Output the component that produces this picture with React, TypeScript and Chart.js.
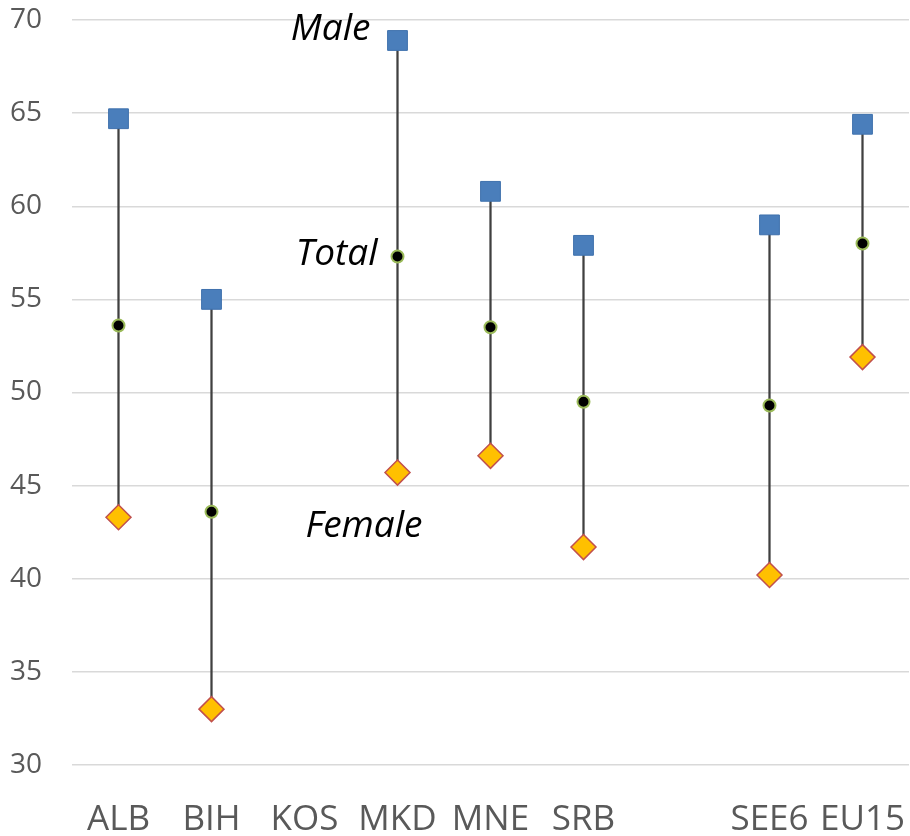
import React, { useEffect, useRef } from "react";
import { Chart, registerables } from "chart.js";

Chart.register(...registerables);

const categories = ["ALB", "BIH", "KOS", "MKD", "MNE", "SRB", "", "SEE6", "EU15"];
const maleValues = [64.7, 55.0, null, 68.9, 60.8, 57.9, null, 59.0, 64.4];
const totalValues = [53.6, 43.6, null, 57.3, 53.5, 49.5, null, 49.3, 58.0];
const femaleValues = [43.3, 33.0, null, 45.7, 46.6, 41.7, null, 40.2, 51.9];
const yTicks = [30, 35, 40, 45, 50, 55, 60, 65, 70];
const annotationTexts = ["Male", "Total", "Female"];
const annotationValues = [68.9, 56.85, 42.25];
const annotationCategory = "MKD";

const rangeValues = categories.map((_, i) =>
  maleValues[i] == null || femaleValues[i] == null ? null : [femaleValues[i], maleValues[i]]
);

const annotationPlugin = {
  id: "seriesLabels",
  afterDatasetsDraw(chart: any) {
    const ctx = chart.ctx;
    const x = chart.scales.x;
    const y = chart.scales.y;
    const idx = categories.indexOf(annotationCategory);
    const cx = x.getPixelForValue(idx);
    ctx.save();
    ctx.fillStyle = "#000000";
    ctx.font = "italic 37px 'Open Sans'";
    ctx.textBaseline = "alphabetic";
    ctx.textAlign = "right";
    ctx.fillText(annotationTexts[0], cx - 27, y.getPixelForValue(annotationValues[0]));
    ctx.fillText(annotationTexts[1], cx - 20, y.getPixelForValue(annotationValues[1]));
    ctx.textAlign = "left";
    ctx.fillText(annotationTexts[2], cx - 92, y.getPixelForValue(annotationValues[2]));
    ctx.restore();
  },
};

export default function App() {
  const ref = useRef<HTMLCanvasElement | null>(null);
  useEffect(() => {
    if (!ref.current) return;
    const chart = new Chart(ref.current, {
      type: "bar",
      data: {
        labels: categories,
        datasets: [
          {
            type: "line",
            label: "Male",
            data: maleValues as any,
            showLine: false,
            pointStyle: "rect",
            pointRadius: 14,
            backgroundColor: "#4a7ebb",
            borderColor: "#3f71ad",
            borderWidth: 1,
            order: 1,
          },
          {
            type: "line",
            label: "Total",
            data: totalValues as any,
            showLine: false,
            pointStyle: "circle",
            pointRadius: 6,
            backgroundColor: "#000000",
            borderColor: "#9bbb59",
            borderWidth: 2,
            order: 0,
          },
          {
            type: "line",
            label: "Female",
            data: femaleValues as any,
            showLine: false,
            pointStyle: "rectRot",
            pointRadius: 12.5,
            backgroundColor: "#ffc000",
            borderColor: "#c0504d",
            borderWidth: 1.5,
            order: 2,
          },
          {
            type: "bar",
            label: "Range",
            data: rangeValues as any,
            backgroundColor: "#404040",
            barThickness: 1.6,
            borderWidth: 0,
            order: 10,
          },
        ],
      },
      options: {
        animation: false,
        responsive: false,
        maintainAspectRatio: false,
        layout: { padding: { left: 0, right: 2, top: 20, bottom: 0 } },
        plugins: { legend: { display: false }, tooltip: { enabled: false } },
        scales: {
          x: {
            offset: true,
            grid: {
              display: true,
              drawOnChartArea: false,
              drawTicks: true,
              tickLength: 34,
              tickColor: "rgba(0,0,0,0)",
              color: "rgba(0,0,0,0)",
            },
            border: { display: false },
            ticks: {
              autoSkip: false,
              maxRotation: 0,
              padding: 0,
              color: "#595959",
              font: { family: "'Open Sans'", size: 35 },
            },
            afterFit: (s: any) => {
              s.height = 71;
              s.paddingLeft = 0;
              s.paddingRight = 0;
            },
          },
          y: {
            min: 30,
            max: 70,
            afterBuildTicks: (s: any) => {
              s.ticks = yTicks.map((v) => ({ value: v }));
            },
            grid: { color: "#d9d9d9", lineWidth: 1.5, drawTicks: false },
            border: { display: false },
            ticks: {
              padding: 30,
              color: "#595959",
              font: { family: "'Open Sans'", size: 28 },
            },
            afterFit: (s: any) => {
              s.width = 72;
              s.paddingTop = 0;
              s.paddingBottom = 0;
            },
          },
        },
      },
      plugins: [annotationPlugin],
    });
    return () => chart.destroy();
  }, []);
  return (
    <div style={{ position: "absolute", left: 0, top: 0, width: 910, height: 836, overflow: "hidden" }}>
      <canvas ref={ref} width={924} height={836} style={{ width: 924, height: 836 }} />
    </div>
  );
}
